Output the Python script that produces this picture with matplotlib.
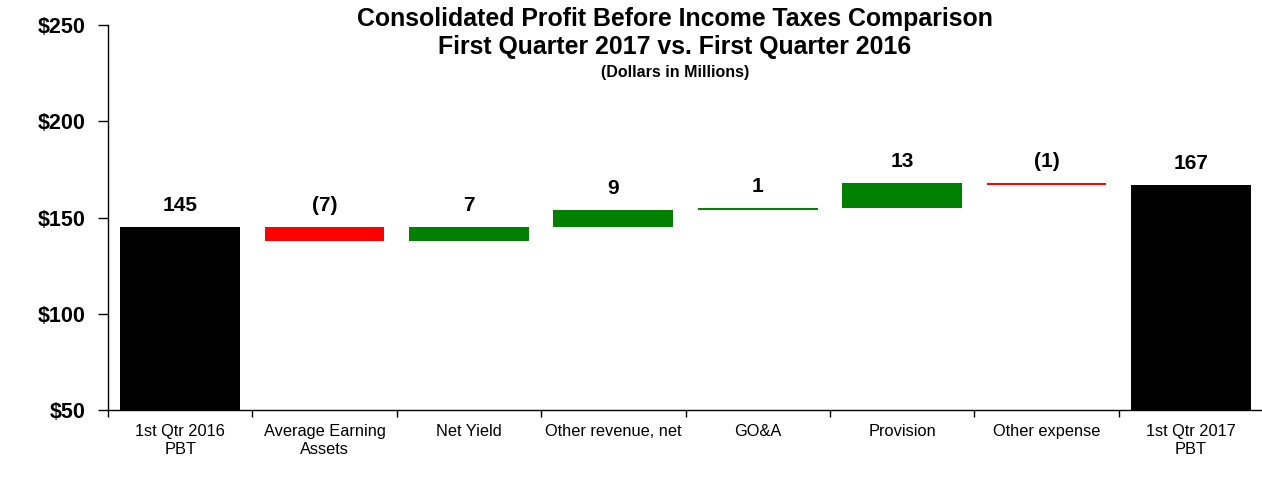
import matplotlib
matplotlib.use('Agg')

import numpy as np
import matplotlib.pyplot as plt
from matplotlib.ticker import FixedLocator, FuncFormatter

plt.rcParams['font.family'] = ['Liberation Sans', 'DejaVu Sans']

# Waterfall data (dollars in millions)
categories = ['1st Qtr 2016\nPBT', 'Average Earning\nAssets', 'Net Yield',
              'Other revenue, net', 'GO&A', 'Provision', 'Other expense',
              '1st Qtr 2017\nPBT']
start_value = 145
changes = [-7, 7, 9, 1, 13, -1]
end_value = 167

# Build bar bottoms/heights from the data
running = start_value + np.concatenate([[0], np.cumsum(changes)])
bottoms = [0] + [min(running[i], running[i + 1]) for i in range(len(changes))] + [0]
heights = [start_value] + [abs(c) for c in changes] + [end_value]
tops = [b + h for b, h in zip(bottoms, heights)]
colors = ['black'] + ['#008000' if c > 0 else '#FF0000' for c in changes] + ['black']
labels = [str(start_value)] + [str(c) if c > 0 else '(%d)' % -c for c in changes] + [str(end_value)]

W, H = 1262, 493
fig = plt.figure(figsize=(W / 100.0, H / 100.0), dpi=100)
ax = fig.add_axes([108.0 / W, (H - 410.0) / H, 1155.0 / W, 385.0 / H])

x = np.arange(len(categories))
ax.bar(x, heights, bottom=bottoms, width=0.83, color=colors, edgecolor='none')

# Value labels above bars
for xi, top, lab in zip(x, tops, labels):
    ax.annotate(lab, (xi, top), xytext=(0, 8.5), textcoords='offset points',
                ha='center', va='bottom', fontsize=15, fontweight='bold')

ax.set_xlim(-0.5, len(categories) - 0.5)
ax.set_ylim(50, 250)
ax.yaxis.set_major_locator(FixedLocator([50, 100, 150, 200, 250]))
ax.yaxis.set_major_formatter(FuncFormatter(lambda v, p: '$%d' % v))

# Category labels at centers, tick marks at boundaries
ax.set_xticks(x)
ax.set_xticklabels(categories, fontsize=11.8, linespacing=1.3)
ax.set_xticks(np.arange(len(categories) + 1) - 0.5, minor=True)
ax.tick_params(axis='x', which='major', length=0, pad=10)
ax.tick_params(axis='x', which='minor', length=5, width=1, direction='out')
ax.tick_params(axis='y', length=7, width=1, direction='out', pad=9)
for t in ax.get_yticklabels():
    t.set_fontsize(15.5)
    t.set_fontweight('bold')

for s in ['top', 'right']:
    ax.spines[s].set_visible(False)
for s in ['left', 'bottom']:
    ax.spines[s].set_linewidth(1)

# Titles
tx = 675.0 / W
fig.text(tx, 1 - 19.0 / H, 'Consolidated Profit Before Income Taxes Comparison',
         ha='center', va='center', fontsize=17.9, fontweight='bold')
fig.text(tx, 1 - 47.0 / H, 'First Quarter 2017 vs. First Quarter 2016',
         ha='center', va='center', fontsize=17.9, fontweight='bold')
fig.text(tx, 1 - 72.0 / H, '(Dollars in Millions)',
         ha='center', va='center', fontsize=11.5, fontweight='bold')

plt.savefig('out.png', dpi=100)
plt.close()
